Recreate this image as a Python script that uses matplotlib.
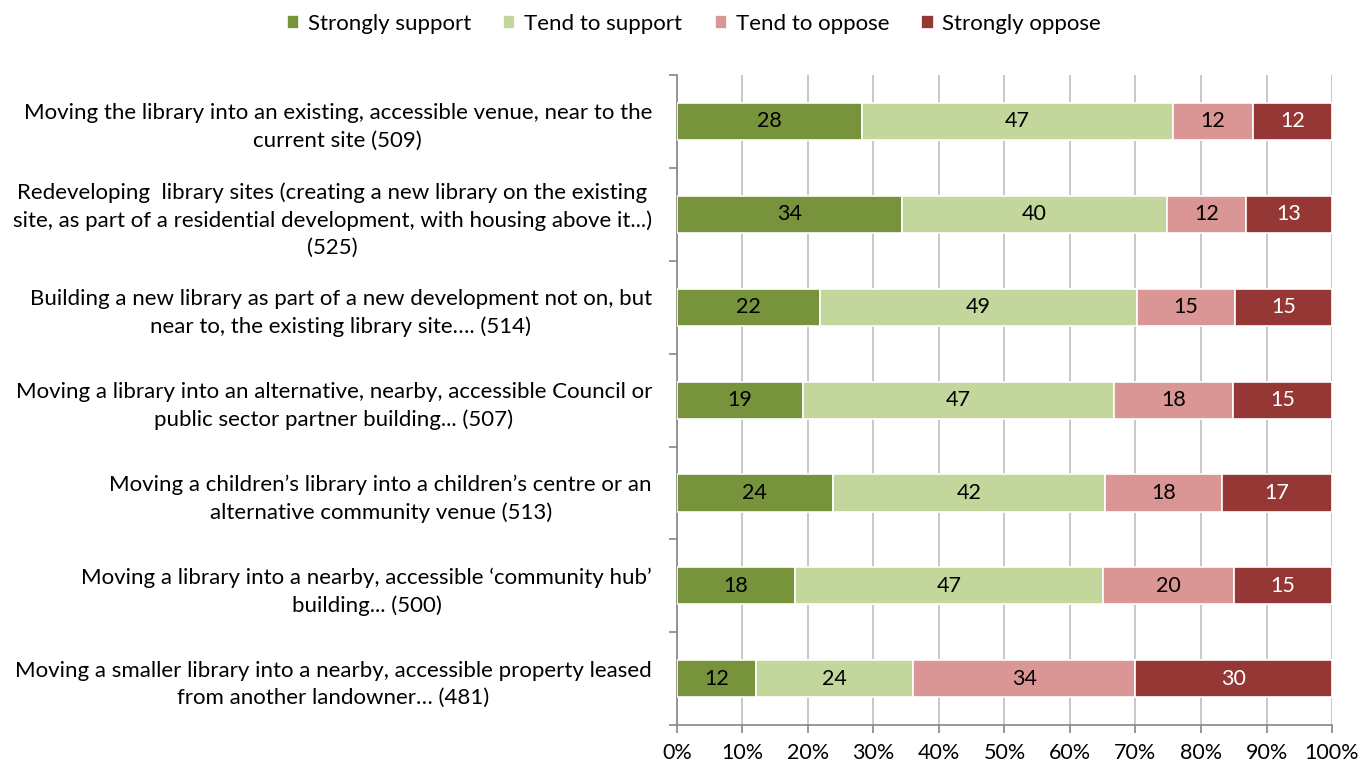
import matplotlib.pyplot as plt
import numpy as np

plt.rcParams['font.family'] = ['Lato', 'DejaVu Sans']

labels = [
    "Moving the library into an existing, accessible venue, near to the\ncurrent site (509)",
    "Redeveloping  library sites (creating a new library on the existing\nsite, as part of a residential development, with housing above it...)\n(525)",
    "Building a new library as part of a new development not on, but\nnear to, the existing library site…. (514)",
    "Moving a library into an alternative, nearby, accessible Council or\npublic sector partner building... (507)",
    "Moving a children\u2019s library into a children\u2019s centre or an\nalternative community venue (513)",
    "Moving a library into a nearby, accessible \u2018community hub\u2019\nbuilding... (500)",
    "Moving a smaller library into a nearby, accessible property leased\nfrom another landowner… (481)",
]
series = ["Strongly support", "Tend to support", "Tend to oppose", "Strongly oppose"]
strongly_support = [28, 34, 22, 19, 24, 18, 12]
tend_support = [47, 40, 49, 47, 42, 47, 24]
tend_oppose = [12, 12, 15, 18, 18, 20, 34]
strongly_oppose = [12, 13, 15, 15, 17, 15, 30]

colors = ["#77933C", "#C3D69B", "#D99694", "#953735"]
text_colors = ["black", "black", "black", "white"]

data = np.array([strongly_support, tend_support, tend_oppose, strongly_oppose], dtype=float)
pct = data / data.sum(axis=0) * 100

fig = plt.figure(figsize=(13.62, 7.65), dpi=100)
ax = fig.add_axes([0.497, 0.052, 0.481, 0.850])

y = np.arange(len(labels))
left = np.zeros(len(labels))
for i in range(4):
    bars = ax.barh(y, pct[i], left=left, height=0.4, color=colors[i],
                   edgecolor="white", linewidth=1.2, label=series[i], zorder=3)
    for j, b in enumerate(bars):
        ax.text(left[j] + pct[i][j] / 2, y[j], f"{int(data[i][j])}",
                ha="center", va="center", fontsize=15.5, color=text_colors[i], zorder=4)
    left += pct[i]

ax.set_xlim(0, 100)
ax.set_ylim(len(labels) - 0.5, -0.5)
ax.set_xticks(np.arange(0, 101, 10))
ax.set_xticklabels([f"{v}%" for v in range(0, 101, 10)], fontsize=15.5)
ax.xaxis.grid(True, color="#BFBFBF", linewidth=1.2, zorder=0)
ax.set_axisbelow(True)

ax.set_yticks(y)
ax.set_yticklabels(labels, fontsize=16, multialignment="center", linespacing=1.45)
ax.tick_params(axis="y", length=0, pad=18)
ax.set_yticks(np.arange(-0.5, len(labels), 1), minor=True)
ax.tick_params(axis="y", which="minor", length=6, color="#868686", width=1.2)
ax.tick_params(axis="x", length=6, color="#868686", width=1.2, pad=7)

for s in ["top", "right"]:
    ax.spines[s].set_visible(False)
for s in ["left", "bottom"]:
    ax.spines[s].set_color("#868686")
    ax.spines[s].set_linewidth(1.2)

fig.legend(loc="upper center", bbox_to_anchor=(0.5095, 1.008), ncol=4, frameon=False,
           fontsize=16, handlelength=0.55, handleheight=0.55, columnspacing=1.45,
           handletextpad=0.4)

fig.savefig("out.png", dpi=100)
